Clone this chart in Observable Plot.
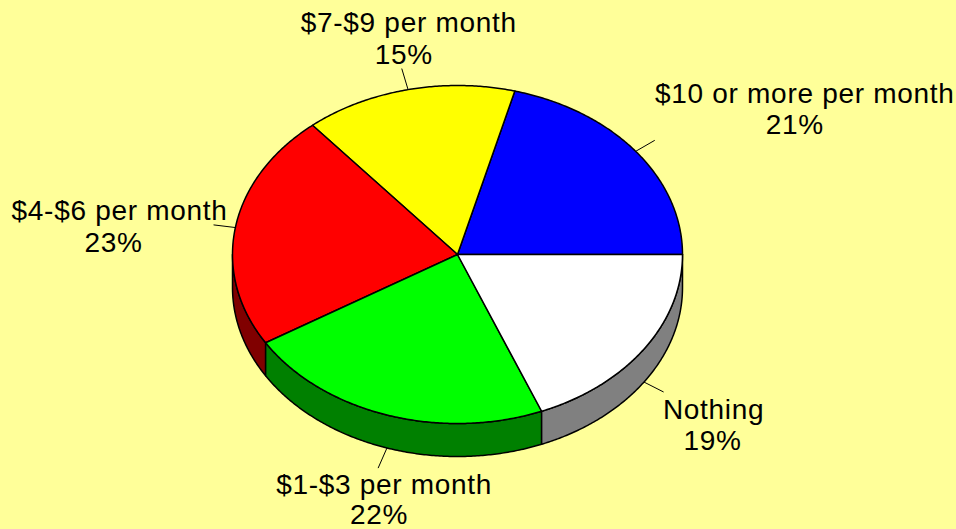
<!DOCTYPE html>
<html>
<head>
<meta charset="utf-8">
<script src="https://cdn.jsdelivr.net/npm/d3@7"></script>
<script src="https://cdn.jsdelivr.net/npm/@observablehq/plot@0.6"></script>
<style>html,body{margin:0;padding:0;background:#FFFF99;overflow:hidden}svg{display:block}</style>
</head>
<body>
<div id="chart"></div>
<script>
// Data, counter-clockwise from the 3 o'clock position (labels show them rounded)
const categories = ["$10 or more per month", "$7-$9 per month", "$4-$6 per month", "$1-$3 per month", "Nothing"];
const shares = [20.9, 15.25, 22.6, 22.35, 18.9];
const topColors = ["#0000FF", "#FFFF00", "#FF0000", "#00FF00", "#FFFFFF"];
const sideColors = ["#000080", "#808000", "#800000", "#008000", "#808080"];

// Layout of the tilted pie, in pixels
const W = 956, H = 529;
const cx = 457, cy = 254, rx = 225, ry = 169, depth = 33, leader = 22;
// Offsets from each leader end to the centre of the label's name and percent lines
const nameDx = [150, 7, -94, 6, 50];
const nameDy = [-46, -46, -14, 17, 18];
const pctDx = [140, 2, -100, 1, 49];
const pctDy = [-15, -14, 18, 47, 49];

const pt = (deg, drop = 0) => {
  const a = deg * Math.PI / 180;
  return [cx + rx * Math.cos(a), cy - ry * Math.sin(a) + drop];
};
const arc = (a0, a1, drop = 0) => {
  const n = Math.max(2, Math.ceil(Math.abs(a1 - a0) * 2));
  return d3.range(n + 1).map(i => pt(a0 + (a1 - a0) * i / n, drop));
};

let acc = 0;
const slices = shares.map((v, i) => {
  const a0 = acc * 3.6; acc += v; const a1 = acc * 3.6;
  return {i, v, a0, a1, mid: (a0 + a1) / 2};
});

const topRows = slices.flatMap(s => {
  const ring = [[cx, cy], ...arc(s.a0, s.a1), [cx, cy]];
  return ring.map(([x, y]) => ({x, y, id: s.i, fill: topColors[s.i]}));
});
const sideRows = slices.filter(s => s.a1 > 180).flatMap(s => {
  const a0 = Math.max(s.a0, 180), a1 = s.a1;
  const ring = [...arc(a0, a1), ...arc(a1, a0, depth)];
  ring.push(ring[0]);
  return ring.map(([x, y]) => ({x, y, id: s.i, fill: sideColors[s.i]}));
});
const leaders = slices.map(s => {
  const drop = s.mid > 180 && s.mid < 360 ? depth : 0;
  const [x1, y1] = pt(s.mid, drop);
  const a = s.mid * Math.PI / 180;
  const ux = rx * Math.cos(a), uy = -ry * Math.sin(a), len = Math.hypot(ux, uy);
  const x2 = x1 + ux / len * leader, y2 = y1 + uy / len * leader;
  return {x1, y1, x2, y2, i: s.i};
});
const labels = leaders.flatMap(l => [
  {x: l.x2 + nameDx[l.i], y: l.y2 + nameDy[l.i], text: categories[l.i]},
  {x: l.x2 + pctDx[l.i], y: l.y2 + pctDy[l.i], text: `${Math.round(shares[l.i])}%`}
]);

const chart = Plot.plot({
  width: W, height: H,
  margin: 0,
  x: {domain: [0, W], range: [0, W], axis: null},
  y: {domain: [0, H], range: [0, H], axis: null},
  style: {background: "#FFFF99", letterSpacing: "0.7px"},
  marks: [
    Plot.line(sideRows, {x: "x", y: "y", z: "id", fill: "fill", stroke: "#000", strokeWidth: 1.5, strokeLinejoin: "round", curve: "linear"}),
    Plot.line(topRows, {x: "x", y: "y", z: "id", fill: "fill", stroke: "#000", strokeWidth: 1.5, strokeLinejoin: "round", curve: "linear"}),
    Plot.link(leaders, {x1: "x1", y1: "y1", x2: "x2", y2: "y2", stroke: "#000", strokeWidth: 1}),
    Plot.text(labels, {x: "x", y: "y", text: "text", fontFamily: "Liberation Sans", fontSize: 28, fill: "#000", textAnchor: "middle"})
  ]
});
document.getElementById("chart").append(chart);
</script>
</body>
</html>
